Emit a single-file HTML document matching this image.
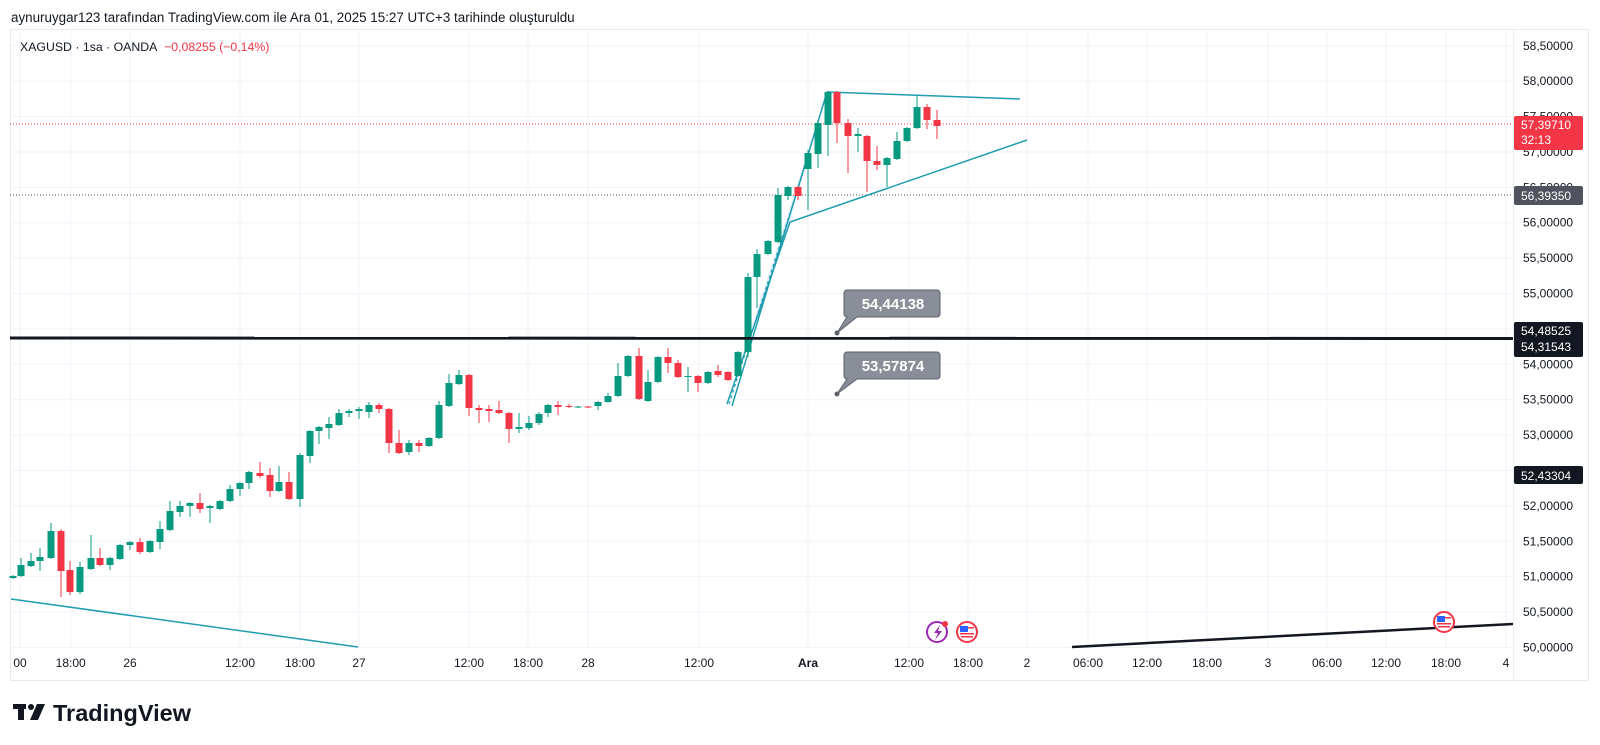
<!DOCTYPE html>
<html><head><meta charset="utf-8"><style>
html,body{margin:0;padding:0;background:#fff;width:1600px;height:745px;overflow:hidden}
svg text{font-family:"Liberation Sans",sans-serif}
</style></head><body>
<svg id="s" width="1600" height="745" xmlns="http://www.w3.org/2000/svg">
<rect x="0" y="0" width="1600" height="745" fill="#fff"/>
<text x="11" y="22" font-size="13.4" fill="#131722">aynuruygar123 tarafından TradingView.com ile Ara 01, 2025 15:27 UTC+3 tarihinde oluşturuldu</text>
<rect x="10.5" y="29.5" width="1578" height="651" fill="none" stroke="#e8eaef"/>
<g id="grid"></g>
<text x="20" y="51" font-size="12.3" fill="#131722">XAGUSD · 1sa · OANDA <tspan fill="#f23645" dx="4">−0,08255 (−0,14%)</tspan></text>
<line x1="10" y1="124" x2="1513" y2="124" stroke="#f23645" stroke-width="1" stroke-dasharray="1,2"/>
<line x1="10" y1="195" x2="1513" y2="195" stroke="#50535e" stroke-width="1" stroke-dasharray="1,2"/>
<line x1="11" y1="599" x2="358" y2="647" stroke="#1f9cb0" stroke-width="1.5"/>
<polygon points="727,404 790,222 827,92" fill="rgba(33,150,243,0.12)"/>
<line x1="727" y1="404" x2="790" y2="222" stroke="#1f9cb0" stroke-width="1.5"/>
<line x1="732" y1="406" x2="827" y2="92" stroke="#1f9cb0" stroke-width="1.5"/>
<line x1="729" y1="404" x2="808" y2="157" stroke="#1f9cb0" stroke-width="1.2" stroke-dasharray="3,3"/>
<line x1="790" y1="222" x2="1027" y2="140" stroke="#1f9cb0" stroke-width="1.5"/>
<line x1="827" y1="92" x2="1020" y2="99" stroke="#1f9cb0" stroke-width="1.5"/>
<g id="candles"></g>
<line x1="10" y1="338" x2="1513" y2="338.5" stroke="#131722" stroke-width="3"/>
<line x1="1072" y1="647" x2="1513" y2="624" stroke="#131722" stroke-width="2.5"/>
<g>
<path d="M847,290 h90 a3,3 0 0 1 3,3 v21 a3,3 0 0 1 -3,3 h-80 l-20,16 l10,-16 a3,3 0 0 1 -3,-3 v-21 a3,3 0 0 1 3,-3z" fill="#8a8e98" stroke="#5d606b" stroke-width="1"/>
<circle cx="837" cy="333" r="2.5" fill="#5d606b"/>
<text x="893" y="309" font-size="15" font-weight="bold" fill="#fff" text-anchor="middle">54,44138</text>
<path d="M847,352 h90 a3,3 0 0 1 3,3 v21 a3,3 0 0 1 -3,3 h-80 l-20,15 l10,-15 a3,3 0 0 1 -3,-3 v-21 a3,3 0 0 1 3,-3z" fill="#8a8e98" stroke="#5d606b" stroke-width="1"/>
<circle cx="837" cy="394" r="2.5" fill="#5d606b"/>
<text x="893" y="371" font-size="15" font-weight="bold" fill="#fff" text-anchor="middle">53,57874</text>
</g>
<circle cx="937" cy="632" r="10" fill="#fff" stroke="#9c27b0" stroke-width="2"/>
<path d="M940,625 l-6,8 h4 l-3,7 l7,-9 h-4z" fill="#9c27b0"/>
<circle cx="945" cy="624" r="3" fill="#f23645"/>
<g id="flags"></g>
<g id="axis"></g>
<rect x="1514" y="116" width="69" height="34" rx="2" fill="#f23645"/>
<text x="1521" y="129" font-size="12" fill="#fff">57,39710</text>
<text x="1521" y="144" font-size="12" fill="#fff">32:13</text>
<rect x="1514" y="186" width="69" height="19" rx="2" fill="#50535e"/>
<text x="1521" y="200" font-size="12" fill="#fff">56,39350</text>
<rect x="1514" y="322" width="69" height="35" rx="2" fill="#131722"/>
<text x="1521" y="335" font-size="12" fill="#fff">54,48525</text>
<text x="1521" y="351" font-size="12" fill="#fff">54,31543</text>
<rect x="1514" y="466" width="69" height="18" rx="2" fill="#131722"/>
<text x="1521" y="480" font-size="12" fill="#fff">52,43304</text>
<g fill="#131722">
<rect x="13" y="704" width="13" height="5"/>
<rect x="18" y="704" width="6" height="16"/>
<circle cx="31" cy="707" r="3"/>
<polygon points="37,704 45,704 38,720 30,720"/>
</g>
<text x="53" y="721" font-size="23.5" font-weight="bold" fill="#131722">TradingView</text>
</svg>
<script>
const NS="http://www.w3.org/2000/svg";
function el(p,t,a,txt){const e=document.createElementNS(NS,t);for(const k in a)e.setAttribute(k,a[k]);if(txt!==undefined)e.textContent=txt;p.appendChild(e);return e;}
const Y=p=>364.3+(54-p)*70.78;
const grid=document.getElementById('grid'),axis=document.getElementById('axis');
for(let p=58.5;p>=49.99;p-=0.5){const y=Y(p);
 el(grid,'line',{x1:10,y1:y,x2:1513,y2:y,stroke:'#f0f3fa','stroke-width':1});
 el(axis,'text',{x:1523,y:y+4,'font-size':12,fill:'#131722'},p.toFixed(5).replace('.',','));}
const tl=[[20,'00'],[70.7,'18:00'],[130,'26'],[240,'12:00'],[300,'18:00'],[359,'27'],[469,'12:00'],[528,'18:00'],[588,'28'],[699,'12:00'],[808,'Ara'],[909,'12:00'],[968,'18:00'],[1027,'2'],[1088,'06:00'],[1147,'12:00'],[1207,'18:00'],[1268,'3'],[1327,'06:00'],[1386,'12:00'],[1446,'18:00'],[1506,'4']];
tl.forEach(([x,t])=>{if(x>15)el(grid,'line',{x1:x,y1:30,x2:x,y2:647,stroke:'#f0f3fa','stroke-width':1});
 el(axis,'text',{x:x,y:667,'font-size':12,fill:'#131722','text-anchor':'middle','font-weight':t=='Ara'?'bold':'normal'},t);});
el(axis,'line',{x1:1513.5,y1:30,x2:1513.5,y2:680,stroke:'#eceef2'});
const C=[[13,576,578,575,579,'g'],[21,565,576,558,577,'g'],[31,561,566,553,567,'g'],[40,557,561,548,571,'g'],[51,531,558,523,559,'g'],[61,531,571,529,597,'r'],[70,570,592,561,595,'r'],[80,567,592,562,594,'g'],[91,558,569,535,570,'g'],[100,558,565,548,566,'r'],[110,558,565,557,570,'g'],[120,545,559,544,560,'g'],[130,542,545,541,550,'g'],[140,542,552,538,554,'r'],[150,541,552,540,553,'g'],[160,529,542,521,549,'g'],[170,511,530,501,531,'g'],[180,506,512,501,517,'g'],[190,503,506,502,517,'g'],[200,503,509,493,513,'r'],[210,506,508,505,523,'g'],[220,501,509,500,510,'g'],[230,489,501,485,502,'g'],[240,483,489,482,496,'g'],[249,472,483,471,489,'g'],[260,473,476,462,478,'r'],[270,475,491,468,497,'r'],[279,482,491,466,492,'g'],[289,482,499,472,500,'r'],[300,455,499,453,507,'g'],[310,431,456,430,463,'g'],[319,427,431,426,444,'g'],[329,424,428,417,439,'g'],[339,413,425,409,426,'g'],[349,411,413,409,417,'g'],[359,409,411,407,419,'g'],[369,405,412,402,418,'g'],[379,405,409,403,413,'r'],[389,409,443,408,453,'r'],[399,443,453,430,454,'r'],[409,443,452,440,455,'g'],[419,443,446,440,452,'r'],[429,438,446,437,447,'g'],[439,405,438,401,439,'g'],[449,383,406,374,407,'g'],[459,375,384,370,385,'g'],[469,375,408,374,416,'r'],
[479,408,410,405,423,'r'],[489,409,411,405,422,'r'],[499,410,413,401,414,'r'],[509,413,429,412,443,'r'],[519,427,429,413,433,'g'],[529,423,428,416,430,'g'],[539,414,423,412,425,'g'],[548,405,413,404,417,'g'],[558,405,407,401,415,'r'],[569,406,407,404,408,'r'],[578,406.5,407.5,406,408,'g'],[588,406.5,407.5,406,408,'r'],[598,402,406,401,410,'g'],[608,396,402,393,403,'g'],
[618,376,396,363,397,'g'],[628,356,376,355,377,'g'],[639,356,399,348,400,'r'],[648,382,401,370,402,'g'],[658,357,382,356,383,'g'],[668,357,363,348,373,'r'],[678,363,377,360,378,'r'],[688,376,377,367,392,'g'],[698,376,383,375,392,'r'],[708,372,383,371,384,'g'],[718,371,375,365,377,'r'],[728,372,380,371,381,'r'],[738,352,376,351,377,'g'],[748,277,352,273,357,'g'],[757,254,277,249,308,'g'],[768,241,254,240,255,'g'],[778,195,242,188,243,'g'],[788,187,196,186,200,'g'],[798,187,196,186,200,'r'],[808,153,169,150,210,'g'],[818,123,154,120,168,'g'],[828,92,125,91,156,'g'],[837,92,123,91,143,'r'],[848,123,136,119,173,'r'],[858,134,136,128,152,'g'],[867,136,161,135,192,'r'],[877,161,165,146,170,'r'],[887,158,165,157,187,'g'],[897,141,159,132,160,'g'],[907,128,141,127,142,'g'],[917,107,128,96,129,'g'],[927,107,120,104,129,'r'],[937,120,126,110,139,'r']];
const cg=document.getElementById('candles');
C.forEach(([x,t,b,h,l,c])=>{const col=c=='g'?'#089981':'#f23645';
 el(cg,'line',{x1:x,y1:h,x2:x,y2:l,stroke:col,'stroke-width':1});
 el(cg,'rect',{x:x-3.5,y:t,width:7,height:Math.max(1,b-t),fill:col});});
const fg=document.getElementById('flags');
[[967,632],[1444,622]].forEach(([x,y])=>{
 el(fg,'circle',{cx:x,cy:y,r:10,fill:'#fff',stroke:'#f23645','stroke-width':2});
 el(fg,'rect',{x:x-7,y:y-6,width:8,height:6,fill:'#2962ff'});
 el(fg,'rect',{x:x+1,y:y-5,width:6,height:1.5,fill:'#f23645'});
 el(fg,'rect',{x:x-7,y:y+1,width:14,height:1.5,fill:'#f23645'});
 el(fg,'rect',{x:x-6,y:y+4,width:12,height:1.5,fill:'#f23645'});});
</script>
</body></html>
